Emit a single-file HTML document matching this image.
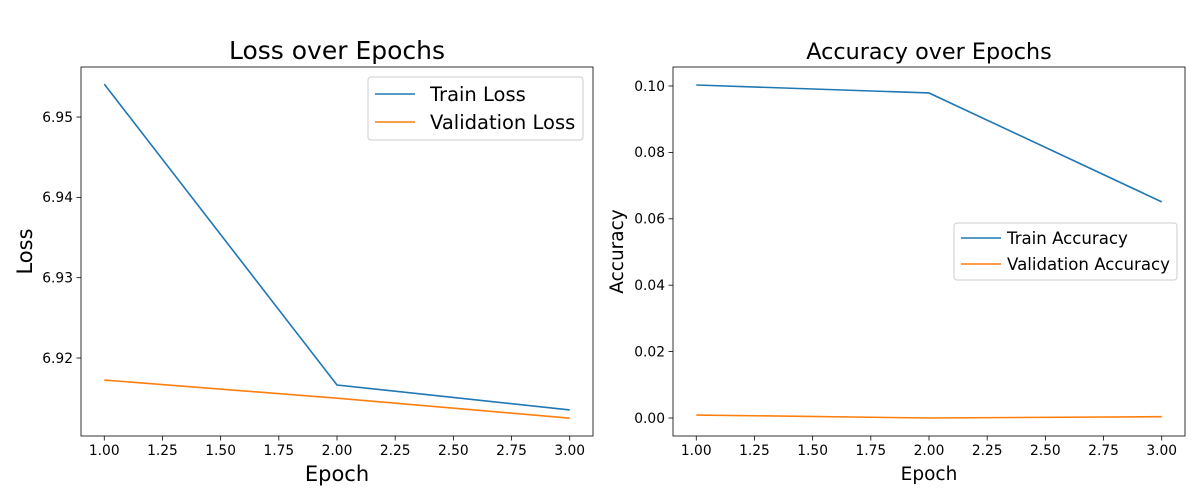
<!DOCTYPE html>
<html><head><meta charset="utf-8">
<style>
html,body{margin:0;padding:0;background:#fff;}
svg{display:block;font-family:"DejaVu Sans","Liberation Sans",sans-serif;}
</style></head>
<body>
<svg id="chart" width="1200" height="500" viewBox="0 0 1200 500" xmlns="http://www.w3.org/2000/svg"></svg>
<script>
const epochs = [1, 2, 3];
const trainLoss = [6.9541, 6.91664, 6.91353];
const valLoss = [6.91726, 6.9150, 6.91251];
const trainAcc = [0.1003, 0.0979, 0.0651];
const valAcc = [0.0009, 0.0000, 0.0004];
const xTicks = [1.00, 1.25, 1.50, 1.75, 2.00, 2.25, 2.50, 2.75, 3.00];
const lossTicks = [6.92, 6.93, 6.94, 6.95];
const accTicks = [0.00, 0.02, 0.04, 0.06, 0.08, 0.10];

const NS = "http://www.w3.org/2000/svg";
const svg = document.getElementById("chart");
function el(tag, attrs, parent, text) {
  const e = document.createElementNS(NS, tag);
  for (const k in attrs) e.setAttribute(k, attrs[k]);
  if (text !== undefined) e.textContent = text;
  (parent || svg).appendChild(e);
  return e;
}

function panel(cfg) {
  const g = el("g", {});
  
  
  const {x0, x1, y0, y1, xmin, xmax, ymin, ymax} = cfg;
  const sx = v => x0 + (v - xmin) / (xmax - xmin) * (x1 - x0);
  const sy = v => y1 - (v - ymin) / (ymax - ymin) * (y1 - y0);
  xTicks.forEach(t => {
    const x = sx(t);
    el("line", {x1: x, x2: x, y1: y1, y2: y1 + 4.5, stroke: "#000", "stroke-width": 0.8}, g);
    const tx = el("text", {x: x, y: y1 + 19, "text-anchor": "middle", "font-size": 13.8}, g, t.toFixed(2));
    
    
  });
  cfg.yTicks.forEach(t => {
    const y = sy(t);
    el("line", {x1: x0 - 4.5, x2: x0, y1: y, y2: y, stroke: "#000", "stroke-width": 0.8}, g);
    const ty = el("text", {x: x0 - 8, y: y + 4.8, "text-anchor": "end", "font-size": 13.8}, g, t.toFixed(cfg.dec));
    
    
  });
  cfg.series.forEach(s => {
    const pts = epochs.map((e, i) => sx(e) + "," + sy(s.data[i])).join(" ");
    const p = el("polyline", {points: pts, fill: "none", stroke: s.color, "stroke-width": 1.6}, g);
    
    
  });
  el("rect", {x: x0, y: y0, width: x1 - x0, height: y1 - y0, fill: "none", stroke: "#000", "stroke-width": 0.8}, g);
  const t = el("text", {x: (x0 + x1) / 2, y: cfg.titleY, "text-anchor": "middle", "font-size": cfg.titleSize}, g, cfg.title);
  
  
  const xl = el("text", {x: (x0 + x1) / 2, y: cfg.xlY, "text-anchor": "middle", "font-size": cfg.labelSize}, g, "Epoch");
  
  
  const yl = el("text", {x: 0, y: 0, "text-anchor": "middle", "font-size": cfg.labelSize,
    transform: "translate(" + cfg.ylX + "," + ((y0 + y1) / 2) + ") rotate(-90)"}, g, cfg.ylabel);
  
  
  const L = cfg.legend;
  const lg = el("g", {}, g);
  
  
  el("rect", {x: L.x, y: L.y, width: L.w, height: L.h, rx: 3, fill: "#fff", "fill-opacity": 0.8, stroke: "#ccc", "stroke-width": 1}, lg);
  cfg.series.forEach((s, i) => {
    const cy = L.y + L.first + i * L.gap;
    el("line", {x1: L.x + 7, x2: L.x + 47, y1: cy, y2: cy, stroke: s.color, "stroke-width": 1.6}, lg);
    const lt = el("text", {x: L.x + L.textX, y: cy + L.fs * 0.36, "font-size": L.fs}, lg, s.label);
    
    
  });
}

panel({
  name: "loss-chart", x0: 81, x1: 593, y0: 67, y1: 436,
  xmin: 0.9, xmax: 3.1, ymin: 6.91029, ymax: 6.95623,
  yTicks: lossTicks, dec: 2,
  title: "Loss over Epochs", titleY: 59, titleSize: 25,
  xlY: 481, ylX: 32, ylabel: "Loss", labelSize: 21,
  series: [
    {name: "train-loss-line", label: "Train Loss", data: trainLoss, color: "#1f77b4"},
    {name: "validation-loss-line", label: "Validation Loss", data: valLoss, color: "#ff7f0e"}
  ],
  legend: {x: 368, y: 77, w: 215, h: 63, first: 17, gap: 28, fs: 19.5, textX: 62}
});

panel({
  name: "accuracy-chart", x0: 673, x1: 1185, y0: 67, y1: 436,
  xmin: 0.9, xmax: 3.1, ymin: -0.00542, ymax: 0.10572,
  yTicks: accTicks, dec: 2,
  title: "Accuracy over Epochs", titleY: 59, titleSize: 22.3,
  xlY: 480, ylX: 623, ylabel: "Accuracy", labelSize: 18.5,
  series: [
    {name: "train-accuracy-line", label: "Train Accuracy", data: trainAcc, color: "#1f77b4"},
    {name: "validation-accuracy-line", label: "Validation Accuracy", data: valAcc, color: "#ff7f0e"}
  ],
  legend: {x: 954, y: 223, w: 223, h: 57, first: 15, gap: 26, fs: 16.6, textX: 53}
});
</script>
</body></html>
